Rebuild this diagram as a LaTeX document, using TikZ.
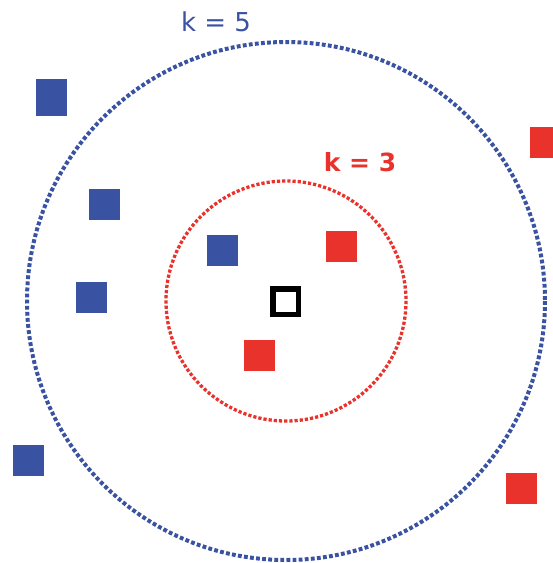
\documentclass[tikz,border=0pt]{standalone}
\usepackage{fontspec}
\setmainfont{DejaVu Sans}
\begin{document}
\begin{tikzpicture}[x=1pt,y=-1pt,
  bsq/.style={fill=ptblue,draw=none,minimum width=31pt,minimum height=31pt,inner sep=0pt},
  rsq/.style={fill=ptred,draw=none,minimum width=31pt,minimum height=31pt,inner sep=0pt},
  ring5/.style={draw=ptblue,line width=4pt,dash pattern=on 3.8pt off 2.3pt},
  ring3/.style={draw=ptred,line width=3.3pt,dash pattern=on 3.2pt off 2pt}]
\definecolor{ptblue}{HTML}{3A52A2}
\definecolor{ptred}{HTML}{E8322B}
\useasboundingbox (0,0) rectangle (553,563);
\clip (0,0) rectangle (553,563);
\fill[white] (0,0) rectangle (553,563);
\coordinate (c) at (286,301);
\draw[ring5] (c) circle[radius=259];
\draw[ring3] (c) circle[radius=120];
\node[bsq,minimum height=37pt] (b1) at (51.5,97.5) {};
\node[bsq] (b2) at (104,204.5) {};
\node[bsq] (b3) at (91.5,297) {};
\node[bsq] (b4) at (222.5,250.5) {};
\node[bsq] (b5) at (28.5,460) {};
\node[rsq] (r1) at (341,246) {};
\node[rsq] (r2) at (259,355) {};
\node[rsq] (r3) at (545.5,142) {};
\node[rsq] (r4) at (521,488.5) {};
\node[draw=black,line width=5.5pt,minimum width=25.5pt,minimum height=25.5pt,inner sep=0pt,fill=white] (q) at (285.5,301.5) {};
\node[text=ptblue,font=\fontsize{26}{31}\selectfont] (k5) at (216,22) {k = 5};
\node[text=ptred,font=\bfseries\fontsize{25}{30}\selectfont] (k3) at (360,162) {k = 3};
\end{tikzpicture}
\end{document}
